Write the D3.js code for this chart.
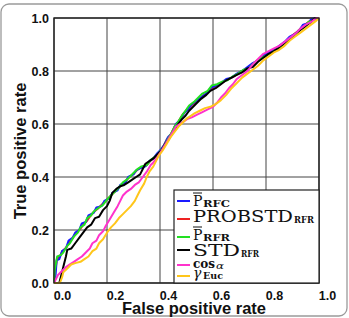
<!DOCTYPE html>
<html>
<head>
<meta charset="utf-8">
<script src="https://cdn.jsdelivr.net/npm/d3@7"></script>
<style>
  body { margin: 0; background: #fff; }
  svg { display: block; }
</style>
</head>
<body>
<svg id="chart" width="349" height="318"></svg>
<script>
// ROC curves, [false positive rate, true positive rate]
const pRFC = [[0,0],[0.006,0.03],[0.01,0.085],[0.02,0.09],[0.03,0.12],[0.045,0.13],[0.055,0.16],[0.07,0.17],[0.08,0.19],[0.095,0.2],[0.105,0.225],[0.12,0.23],[0.13,0.255],[0.15,0.265],[0.16,0.285],[0.18,0.29],[0.19,0.31],[0.21,0.32],[0.22,0.34],[0.24,0.35],[0.25,0.37],[0.27,0.38],[0.28,0.40],[0.3,0.41],[0.31,0.425],[0.33,0.435],[0.345,0.44],[0.36,0.46],[0.375,0.47],[0.39,0.49],[0.4,0.5],[0.415,0.52],[0.43,0.55],[0.445,0.565],[0.46,0.6],[0.475,0.615],[0.49,0.64],[0.505,0.655],[0.52,0.675],[0.54,0.69],[0.555,0.70],[0.575,0.715],[0.59,0.735],[0.61,0.745],[0.63,0.755],[0.65,0.77],[0.67,0.775],[0.69,0.79],[0.71,0.80],[0.73,0.815],[0.75,0.83],[0.77,0.84],[0.79,0.86],[0.81,0.87],[0.83,0.88],[0.85,0.895],[0.87,0.91],[0.89,0.93],[0.91,0.94],[0.93,0.96],[0.94,0.975],[0.96,0.98],[0.97,0.995],[0.985,1],[1,1]];
const probstdRFR = [[0,0],[0.004,0.04],[0.011,0.09],[0.022,0.1],[0.032,0.12],[0.047,0.135],[0.058,0.155],[0.072,0.172],[0.085,0.19],[0.1,0.205],[0.11,0.22],[0.125,0.235],[0.135,0.25],[0.15,0.268],[0.165,0.28],[0.18,0.295],[0.195,0.31],[0.21,0.325],[0.225,0.34],[0.24,0.355],[0.255,0.37],[0.27,0.385],[0.285,0.40],[0.3,0.412],[0.315,0.428],[0.33,0.436],[0.35,0.445],[0.365,0.462],[0.38,0.474],[0.395,0.49],[0.41,0.51],[0.425,0.54],[0.44,0.56],[0.455,0.59],[0.47,0.61],[0.485,0.635],[0.5,0.652],[0.52,0.672],[0.54,0.688],[0.56,0.705],[0.58,0.72],[0.6,0.738],[0.62,0.748],[0.64,0.76],[0.66,0.77],[0.68,0.78],[0.7,0.795],[0.72,0.805],[0.74,0.82],[0.76,0.835],[0.78,0.85],[0.8,0.862],[0.82,0.872],[0.84,0.885],[0.86,0.9],[0.88,0.915],[0.9,0.935],[0.92,0.95],[0.94,0.97],[0.96,0.985],[0.98,0.995],[1,1]];
const pRFR = [[0,0],[0.003,0.05],[0.012,0.1],[0.025,0.105],[0.035,0.115],[0.05,0.14],[0.06,0.15],[0.075,0.175],[0.09,0.19],[0.1,0.21],[0.115,0.22],[0.125,0.245],[0.14,0.255],[0.15,0.27],[0.17,0.285],[0.185,0.295],[0.2,0.315],[0.215,0.33],[0.23,0.345],[0.245,0.36],[0.26,0.38],[0.275,0.39],[0.29,0.405],[0.3,0.415],[0.315,0.43],[0.33,0.44],[0.35,0.445],[0.365,0.465],[0.38,0.475],[0.395,0.49],[0.41,0.51],[0.425,0.535],[0.44,0.56],[0.455,0.59],[0.47,0.61],[0.485,0.635],[0.5,0.655],[0.51,0.67],[0.53,0.685],[0.545,0.70],[0.56,0.715],[0.58,0.725],[0.595,0.745],[0.615,0.75],[0.635,0.76],[0.655,0.765],[0.675,0.78],[0.695,0.79],[0.715,0.805],[0.735,0.81],[0.755,0.83],[0.775,0.845],[0.795,0.855],[0.815,0.865],[0.83,0.875],[0.85,0.885],[0.87,0.905],[0.89,0.92],[0.91,0.935],[0.925,0.955],[0.945,0.965],[0.96,0.985],[0.975,0.99],[0.99,1],[1,1]];
const stdRFR = [[0,0],[0.02,0],[0.03,0.04],[0.035,0.06],[0.045,0.1],[0.05,0.125],[0.065,0.13],[0.08,0.15],[0.095,0.17],[0.11,0.19],[0.125,0.21],[0.14,0.22],[0.155,0.245],[0.17,0.25],[0.185,0.275],[0.2,0.29],[0.21,0.31],[0.22,0.34],[0.235,0.355],[0.25,0.365],[0.265,0.37],[0.28,0.38],[0.295,0.39],[0.31,0.40],[0.325,0.41],[0.335,0.43],[0.345,0.45],[0.36,0.46],[0.375,0.47],[0.39,0.485],[0.405,0.5],[0.42,0.525],[0.435,0.545],[0.45,0.57],[0.465,0.595],[0.48,0.615],[0.495,0.63],[0.51,0.65],[0.525,0.665],[0.54,0.68],[0.555,0.695],[0.575,0.71],[0.59,0.725],[0.61,0.735],[0.63,0.75],[0.65,0.765],[0.67,0.775],[0.69,0.785],[0.71,0.795],[0.73,0.81],[0.75,0.815],[0.77,0.835],[0.79,0.85],[0.81,0.865],[0.83,0.875],[0.85,0.89],[0.87,0.905],[0.89,0.92],[0.91,0.94],[0.93,0.955],[0.95,0.97],[0.97,0.985],[0.985,1],[1,1]];
const cosAlpha = [[0,0],[0.005,0.01],[0.015,0.03],[0.03,0.045],[0.045,0.06],[0.06,0.07],[0.075,0.08],[0.09,0.09],[0.105,0.1],[0.12,0.115],[0.135,0.13],[0.145,0.15],[0.16,0.16],[0.17,0.18],[0.185,0.195],[0.195,0.215],[0.21,0.24],[0.225,0.265],[0.24,0.29],[0.25,0.31],[0.26,0.33],[0.275,0.345],[0.29,0.355],[0.305,0.37],[0.32,0.38],[0.335,0.40],[0.35,0.42],[0.365,0.445],[0.375,0.455],[0.39,0.475],[0.4,0.49],[0.415,0.515],[0.43,0.54],[0.445,0.565],[0.46,0.59],[0.475,0.6],[0.49,0.61],[0.505,0.62],[0.52,0.625],[0.54,0.635],[0.56,0.645],[0.58,0.655],[0.6,0.665],[0.615,0.68],[0.63,0.70],[0.645,0.715],[0.66,0.735],[0.675,0.75],[0.69,0.77],[0.71,0.785],[0.73,0.80],[0.75,0.825],[0.77,0.845],[0.79,0.865],[0.81,0.875],[0.83,0.885],[0.85,0.895],[0.87,0.91],[0.89,0.925],[0.91,0.94],[0.93,0.96],[0.95,0.975],[0.97,0.985],[0.99,1],[1,1]];
const gammaEuc = [[0,0],[0.022,0],[0.03,0.02],[0.035,0.04],[0.05,0.055],[0.065,0.07],[0.08,0.075],[0.1,0.08],[0.115,0.09],[0.13,0.1],[0.145,0.12],[0.16,0.13],[0.17,0.15],[0.185,0.165],[0.2,0.19],[0.215,0.21],[0.23,0.225],[0.245,0.245],[0.26,0.26],[0.275,0.275],[0.29,0.29],[0.305,0.31],[0.315,0.33],[0.325,0.35],[0.34,0.375],[0.35,0.4],[0.36,0.42],[0.375,0.44],[0.385,0.46],[0.395,0.48],[0.41,0.5],[0.425,0.525],[0.44,0.55],[0.455,0.57],[0.47,0.59],[0.485,0.605],[0.5,0.62],[0.515,0.63],[0.53,0.64],[0.55,0.65],[0.57,0.66],[0.59,0.665],[0.61,0.675],[0.63,0.69],[0.65,0.71],[0.67,0.735],[0.69,0.755],[0.71,0.775],[0.73,0.79],[0.75,0.805],[0.77,0.82],[0.79,0.84],[0.81,0.855],[0.83,0.87],[0.85,0.88],[0.87,0.895],[0.89,0.915],[0.91,0.93],[0.93,0.945],[0.95,0.96],[0.97,0.975],[0.99,0.99],[1,1]];

const tickValues = [0, 0.2, 0.4, 0.6, 0.8, 1.0];

// draw order: red first so others cover it
const series = [
  {data: probstdRFR, color: "#ee2222"},
  {data: pRFC, color: "#1a1aff"},
  {data: pRFR, color: "#22e022"},
  {data: stdRFR, color: "#000000"},
  {data: cosAlpha, color: "#ff33cc"},
  {data: gammaEuc, color: "#ffc61a"}
];

var svg = d3.select("#chart");
var pL = 54, pR = 319, pT = 18, pB = 283;

var x = d3.scaleLinear().domain([0, 1]).range([pL, pR]);
var y = d3.scaleLinear().domain([0, 1]).range([pB, pT]);

// outer rounded frame
svg.append("rect")
  .attr("x", 1).attr("y", 4).attr("width", 346).attr("height", 312)
  .attr("rx", 8).attr("ry", 8)
  .attr("fill", "none").attr("stroke", "#9a9a9a").attr("stroke-width", 1.3);

// grid
var grid = svg.append("g");
grid.selectAll(".gx").data(tickValues).enter().append("line")
  .attr("x1", d => x(d)).attr("x2", d => x(d))
  .attr("y1", pT).attr("y2", pB)
  .attr("stroke", "#444").attr("stroke-width", 1);
grid.selectAll(".gy").data(tickValues).enter().append("line")
  .attr("y1", d => y(d)).attr("y2", d => y(d))
  .attr("x1", pL).attr("x2", pR)
  .attr("stroke", "#444").attr("stroke-width", 1);

// axes (labels only)
var xAxis = svg.append("g").attr("transform", `translate(0,${pB})`)
  .call(d3.axisBottom(x).tickValues(tickValues).tickFormat(d3.format(".1f")).tickSize(0));
xAxis.select(".domain").remove();
xAxis.selectAll("text")
  .attr("dy", 0).attr("y", 17).attr("dx", 8)
  .attr("font-family", "Liberation Sans, Arial, sans-serif")
  .attr("font-weight", "bold").attr("font-size", "12.5px").attr("fill", "#111");

var yAxis = svg.append("g").attr("transform", `translate(${pL},0)`)
  .call(d3.axisLeft(y).tickValues(tickValues).tickFormat(d3.format(".1f")).tickSize(0));
yAxis.select(".domain").remove();
yAxis.selectAll("text")
  .attr("x", -5).attr("dy", "0.36em")
  .attr("font-family", "Liberation Sans, Arial, sans-serif")
  .attr("font-weight", "bold").attr("font-size", "12.5px").attr("fill", "#111");

// axis titles
svg.append("text")
  .attr("x", 194).attr("y", 314).attr("text-anchor", "middle")
  .attr("font-family", "Liberation Sans, Arial, sans-serif")
  .attr("font-weight", "bold").attr("font-size", "16.5px").attr("fill", "#111")
  .text("False positive rate");
svg.append("text")
  .attr("transform", "translate(26,151) rotate(-90)").attr("text-anchor", "middle")
  .attr("font-family", "Liberation Sans, Arial, sans-serif")
  .attr("font-weight", "bold").attr("font-size", "16.5px").attr("fill", "#111")
  .text("True positive rate");

// curves
var line = d3.line().x(d => x(d[0])).y(d => y(d[1]));
svg.append("g").selectAll("path").data(series).enter().append("path")
  .attr("d", d => line(d.data))
  .attr("fill", "none")
  .attr("stroke", d => d.color)
  .attr("stroke-width", 2)
  .attr("stroke-linejoin", "round");

// plot border
svg.append("rect")
  .attr("x", pL).attr("y", pT).attr("width", pR - pL).attr("height", pB - pT)
  .attr("fill", "none").attr("stroke", "#222").attr("stroke-width", 1.4);

// legend
var lg = svg.append("g");
lg.append("rect")
  .attr("x", 174).attr("y", 190).attr("width", 145).attr("height", 93)
  .attr("fill", "#fff").attr("stroke", "#222").attr("stroke-width", 1.2);

var legendRows = [
  {color: "#1a1aff", ly: 201, main: "P", bar: true, sub: "RFC", base: 206, size: 14, subx: 203, subw: 27},
  {color: "#ee2222", ly: 219, main: "PROBSTD", bar: false, sub: "RFR", base: 222, size: 17, subx: 294, subw: 20, mainw: 100},
  {color: "#22e022", ly: 237, main: "P", bar: true, sub: "RFR", base: 240, size: 14, subx: 203, subw: 27},
  {color: "#000000", ly: 250, main: "STD", bar: false, sub: "RFR", base: 256, size: 17, subx: 241, subw: 18, mainw: 47},
  {color: "#ff33cc", ly: 265, main: "cos", bar: false, sub: "α", base: 268, size: 12, subx: 216, subw: 8, mainw: 22, bold: true, italicSub: true},
  {color: "#ffc61a", ly: 276, main: "γ", bar: false, sub: "Euc", base: 278, size: 14, subx: 203, subw: 20, italicMain: true}
];

legendRows.forEach(function (r) {
  lg.append("line")
    .attr("x1", 177).attr("x2", 190).attr("y1", r.ly).attr("y2", r.ly)
    .attr("stroke", r.color).attr("stroke-width", 2);
  var t = lg.append("text")
    .attr("x", 193).attr("y", r.base)
    .attr("font-family", "DejaVu Serif, Liberation Serif, serif")
    .attr("font-size", r.size + "px")
    .attr("font-weight", r.bold ? "bold" : "normal")
    .attr("font-style", r.italicMain ? "italic" : "normal")
    .attr("fill", "#111")
    .text(r.main);
  if (r.mainw) t.attr("textLength", r.mainw).attr("lengthAdjust", "spacingAndGlyphs");
  if (r.bar) {
    lg.append("line")
      .attr("x1", 193).attr("x2", 202).attr("y1", r.base - 13).attr("y2", r.base - 13)
      .attr("stroke", "#111").attr("stroke-width", 1);
  }
  lg.append("text")
    .attr("x", r.subx).attr("y", r.base + 1)
    .attr("font-family", "DejaVu Serif, Liberation Serif, serif")
    .attr("font-size", "10px")
    .attr("font-weight", r.italicSub ? "normal" : "bold")
    .attr("font-style", r.italicSub ? "italic" : "normal")
    .attr("fill", "#111")
    .attr("textLength", r.subw).attr("lengthAdjust", "spacingAndGlyphs")
    .text(r.sub);
});
</script>
</body>
</html>
